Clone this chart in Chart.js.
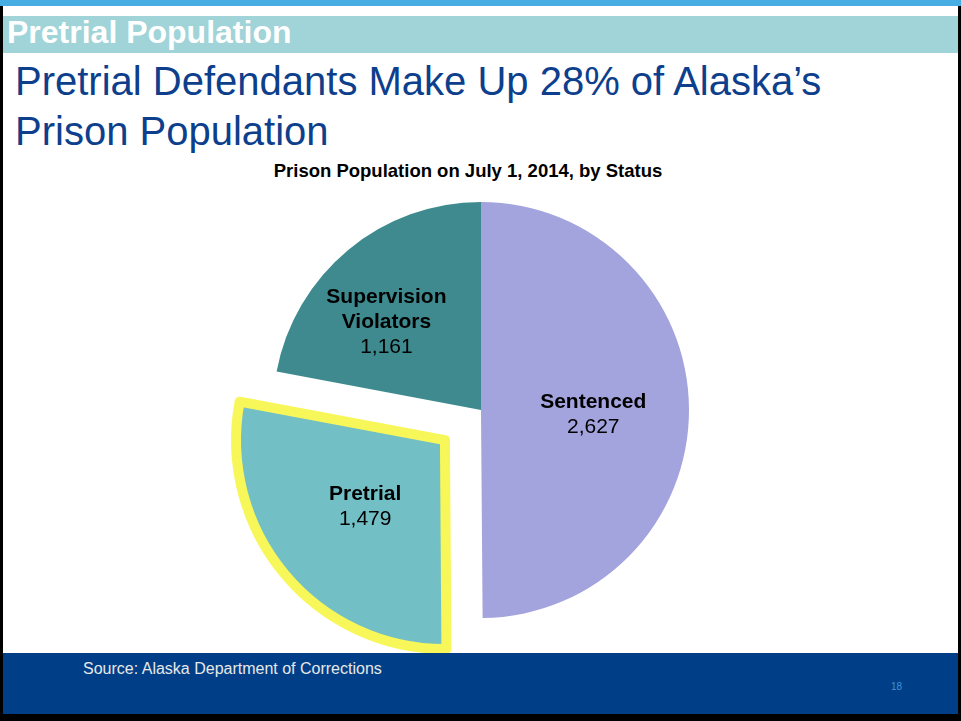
<!DOCTYPE html>
<html>
<head>
<meta charset="utf-8">
<script src="https://cdn.jsdelivr.net/npm/chart.js@4"></script>
<style>
    html, body { margin: 0; padding: 0; background: #000; }
    body { width: 961px; height: 721px; position: relative; overflow: hidden; font-family: "Liberation Sans", Arial, sans-serif; }
    #slide { position: absolute; left: 3px; top: 0; width: 955px; height: 714px; background: #fff; }
    #topBar { position: absolute; left: -3px; top: 0; width: 961px; height: 6px; background: #48ade3; }
    #band { position: absolute; left: 0; top: 16px; width: 955px; height: 37px; background: #a0d4d8; }
    #bandText { position: absolute; left: 4px; top: 14px; font-size: 32px; font-weight: bold; color: #fff; line-height: 37px; white-space: nowrap; }
    #headline { position: absolute; left: 12px; top: 56px; font-size: 40px; line-height: 50px; color: #0d3f8c; white-space: nowrap; }
    #chartTitle { position: absolute; left: -3px; top: 160px; width: 936px; text-align: center; font-size: 18.5px; font-weight: bold; line-height: 22px; color: #000; }
    #chartBox { position: absolute; left: -3px; top: 190px; width: 961px; height: 531px; }
    #footer { position: absolute; left: 0; top: 653px; width: 955px; height: 61px; background: #003f87; z-index: 2; }
    #source { position: absolute; left: 80px; top: 6px; font-size: 16px; line-height: 19px; color: #e8e8e8; }
    #pageNum { position: absolute; left: 888px; top: 28px; font-size: 10px; line-height: 12px; color: #3d93d8; }
</style>
</head>
<body>
<div id="slide">
    <div id="topBar"></div>
    <div id="band"></div>
    <div id="bandText">Pretrial Population</div>
    <div id="headline">Pretrial Defendants Make Up 28% of Alaska’s<br>Prison Population</div>
    <div id="chartTitle">Prison Population on July 1, 2014, by Status</div>
    <div id="chartBox"><canvas id="statusChart" width="961" height="531"></canvas></div>
    <div id="footer">
        <div id="source">Source: Alaska Department of Corrections</div>
        <div id="pageNum">18</div>
    </div>
</div>
<script>
const labels = ['Sentenced', 'Pretrial', 'Supervision Violators'];
const labelLines = [['Sentenced'], ['Pretrial'], ['Supervision', 'Violators']];
const counts = [2627, 1479, 1161];

const sliceColors = ['#a3a3de', '#72bfc5', '#3e8a8f'];
// where each label sits: share of the radius, and a small turn in degrees
const labelRadius = [0.54, 0.5, 0.62];
const labelTurn = [2.5, 0, -7.5];

const sliceLabels = {
    id: 'sliceLabels',
    afterDatasetsDraw(chart) {
        const ctx = chart.ctx;
        const arcs = chart.getDatasetMeta(0).data;
        ctx.save();
        ctx.textAlign = 'center';
        ctx.textBaseline = 'middle';
        ctx.fillStyle = '#000';
        arcs.forEach((arc, i) => {
            const p = arc.getProps(['x', 'y', 'startAngle', 'endAngle', 'outerRadius']);
            const mid = (p.startAngle + p.endAngle) / 2;
            const shift = (arc.options.offset || 0) / 4;
            const ox = p.x + Math.cos(mid) * shift;
            const oy = p.y + Math.sin(mid) * shift;
            const a = mid + labelTurn[i] * Math.PI / 180;
            const r = p.outerRadius * labelRadius[i];
            const cx = ox + Math.cos(a) * r;
            const cy = oy + Math.sin(a) * r;
            const lines = labelLines[i].concat([counts[i].toLocaleString('en-US')]);
            const lineH = 25;
            let y = cy - (lines.length - 1) * lineH / 2;
            lines.forEach((text, j) => {
                ctx.font = (j < lines.length - 1 ? 'bold ' : '') + '21px "Liberation Sans", Arial, sans-serif';
                ctx.fillText(text, cx, y);
                y += lineH;
            });
        });
        ctx.restore();
    }
};

const chart = document.getElementById('statusChart').getContext('2d');

new Chart(chart, {
    type: 'pie',
    data: {
        labels,
        datasets: [{
            data: counts,
            backgroundColor: sliceColors,
            borderColor: ['#fff', '#f7f75a', '#fff'],
            borderWidth: [0, 10, 0],
            borderJoinStyle: 'round',
            offset: [0, 188, 0],
            clip: false
        }]
    },
    options: {
        responsive: false,
        animation: false,
        radius: 208,
        layout: {
            padding: { left: 1, right: 0, top: 0, bottom: 91 }
        },
        plugins: {
            legend: { display: false },
            title: { display: false },
            tooltip: { enabled: false }
        }
    },
    plugins: [sliceLabels]
});
</script>
</body>
</html>
